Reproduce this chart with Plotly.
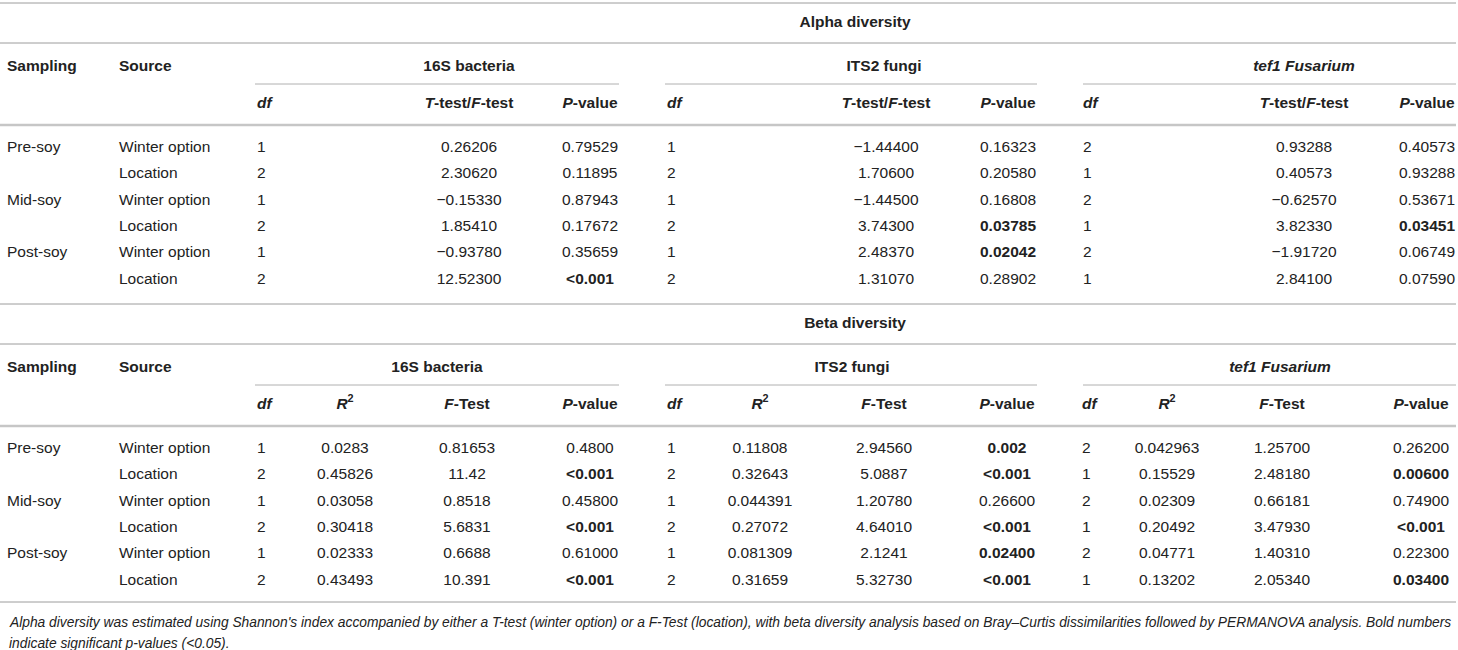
import plotly.graph_objects as go

# row labels
sampling = ["Pre-soy", "", "Mid-soy", "", "Post-soy", ""]
source = ["Winter option", "Location", "Winter option", "Location", "Winter option", "Location"]

# alpha diversity
a16_df = [1, 2, 1, 2, 1, 2]
a16_t = ["0.26206", "2.30620", "−0.15330", "1.85410", "−0.93780", "12.52300"]
a16_p = ["0.79529", "0.11895", "0.87943", "0.17672", "0.35659", "<0.001"]
aits_df = [1, 2, 1, 2, 1, 2]
aits_t = ["−1.44400", "1.70600", "−1.44500", "3.74300", "2.48370", "1.31070"]
aits_p = ["0.16323", "0.20580", "0.16808", "0.03785", "0.02042", "0.28902"]
atef_df = [2, 1, 2, 1, 2, 1]
atef_t = ["0.93288", "0.40573", "−0.62570", "3.82330", "−1.91720", "2.84100"]
atef_p = ["0.40573", "0.93288", "0.53671", "0.03451", "0.06749", "0.07590"]

# beta diversity
b16_df = [1, 2, 1, 2, 1, 2]
b16_r2 = ["0.0283", "0.45826", "0.03058", "0.30418", "0.02333", "0.43493"]
b16_f = ["0.81653", "11.42", "0.8518", "5.6831", "0.6688", "10.391"]
b16_p = ["0.4800", "<0.001", "0.45800", "<0.001", "0.61000", "<0.001"]
bits_df = [1, 2, 1, 2, 1, 2]
bits_r2 = ["0.11808", "0.32643", "0.044391", "0.27072", "0.081309", "0.31659"]
bits_f = ["2.94560", "5.0887", "1.20780", "4.64010", "2.1241", "5.32730"]
bits_p = ["0.002", "<0.001", "0.26600", "<0.001", "0.02400", "<0.001"]
btef_df = [2, 1, 2, 1, 2, 1]
btef_r2 = ["0.042963", "0.15529", "0.02309", "0.20492", "0.04771", "0.13202"]
btef_f = ["1.25700", "2.48180", "0.66181", "3.47930", "1.40310", "2.05340"]
btef_p = ["0.26200", "0.00600", "0.74900", "<0.001", "0.22300", "0.03400"]

groups = ["16S bacteria", "ITS2 fungi", "<i>tef1 Fusarium</i>"]
footnote = ["Alpha diversity was estimated using Shannon's index accompanied by either a T-test (winter option) or a F-Test (location), "
            "with beta diversity analysis based on Bray–Curtis dissimilarities followed by PERMANOVA analysis. Bold numbers",
            "indicate significant p-values (&lt;0.05)."]

W, H = 1458, 650
FONT = "Liberation Sans, Arial, Helvetica, sans-serif"
FS = 15.5
INK = "#222222"
ROW = 26.4


def pval(s):
    sig = s.startswith("<") or float(s) < 0.05
    s = s.replace("<", "&lt;")
    return "<b>" + s + "</b>" if sig else s


fig = go.Figure()


def col(x, y0, vals, pos="middle center"):
    # skip empty cells
    ys = [y0 + i * ROW for i, v in enumerate(vals) if str(v) != ""]
    txt = [str(v) for v in vals if str(v) != ""]
    fig.add_trace(go.Scatter(
        x=[x] * len(txt), y=ys, text=txt, mode="text", textposition=pos,
        textfont=dict(family=FONT, size=FS, color=INK),
        hoverinfo="skip", showlegend=False, cliponaxis=False))


def label(x, y, txt, pos="middle center"):
    col(x, y, [txt], pos)


def hline(x0, x1, y, w=1, c="#9c9c9c"):
    fig.add_shape(type="line", xref="x", yref="y", x0=x0, x1=x1, y0=y, y1=y,
                  line=dict(color=c, width=w))


LEFT = "middle right"
tops = [0, 301]

for k, top in enumerate(tops):
    hline(0, 1456, top + 3)
    label(855, top + 23, "<b>Alpha diversity</b>" if k == 0 else "<b>Beta diversity</b>")
    hline(0, 1456, top + 43)
    label(7, top + 67, "<b>Sampling</b>", LEFT)
    label(119, top + 67, "<b>Source</b>", LEFT)
    for x0, x1 in [(255, 619), (665, 1037), (1083, 1456)]:
        hline(x0, x1, top + 84, 1, "#b0b0b0")
    hline(0, 1456, top + 125, 2.5, "#c6c6c6")
    col(7, top + 148, sampling, LEFT)
    col(119, top + 148, source, LEFT)

# alpha block
t = tops[0]
for gx, g, dfx, tx, px, dfv, tv, pv in [
        (469, groups[0], 257, 469, 590, a16_df, a16_t, a16_p),
        (884, groups[1], 667, 886, 1008, aits_df, aits_t, aits_p),
        (1304, groups[2], 1083, 1304, 1427, atef_df, atef_t, atef_p)]:
    label(gx, t + 67, "<b>" + g + "</b>")
    label(dfx, t + 104, "<b><i>df</i></b>", LEFT)
    label(tx, t + 104, "<b><i>T</i>-test/<i>F</i>-test</b>")
    label(px, t + 104, "<b><i>P</i>-value</b>")
    col(dfx, t + 148, dfv, LEFT)
    col(tx, t + 148, tv)
    col(px, t + 148, [pval(s) for s in pv])

# beta block
t = tops[1]
for gx, g, dfx, rx, fx, px, dfv, rv, fv, pv in [
        (437, groups[0], 257, 345, 467, 590, b16_df, b16_r2, b16_f, b16_p),
        (852, groups[1], 667, 760, 884, 1007, bits_df, bits_r2, bits_f, bits_p),
        (1280, groups[2], 1082, 1167, 1282, 1421, btef_df, btef_r2, btef_f, btef_p)]:
    label(gx, t + 67, "<b>" + g + "</b>")
    label(dfx, t + 104, "<b><i>df</i></b>", LEFT)
    label(rx, t + 104, "<b><i>R</i><sup>2</sup></b>")
    label(fx, t + 104, "<b><i>F</i>-Test</b>")
    label(px, t + 104, "<b><i>P</i>-value</b>")
    col(dfx, t + 148, dfv, LEFT)
    col(rx, t + 148, rv)
    col(fx, t + 148, fv)
    col(px, t + 148, [pval(s) for s in pv])

hline(0, 1456, 602)

for i, line in enumerate(footnote):
    fig.add_annotation(x=7, y=622 + i * 21, xref="x", yref="y", text="<i>" + line + "</i>",
                       showarrow=False, xanchor="left", yanchor="middle",
                       font=dict(family=FONT, size=13.8, color=INK))

fig.update_layout(
    width=W, height=H, margin=dict(l=0, r=0, t=0, b=0),
    paper_bgcolor="white", plot_bgcolor="white",
    xaxis=dict(range=[0, W], visible=False, fixedrange=True),
    yaxis=dict(range=[H, 0], visible=False, fixedrange=True),
)

fig.write_html("out.html", config={"displayModeBar": False},
               post_script="document.body.style.margin='0';")
